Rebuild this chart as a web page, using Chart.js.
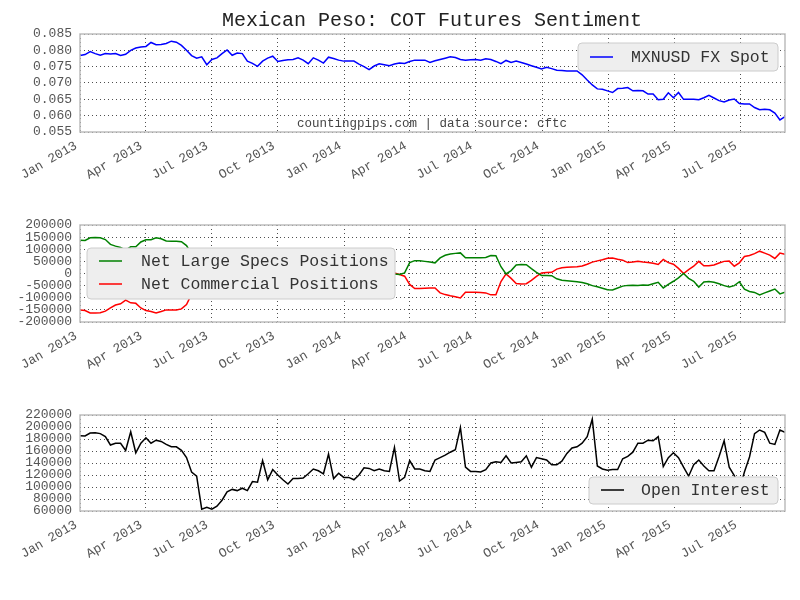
<!DOCTYPE html>
<html>
<head>
<meta charset="utf-8">
<title>Mexican Peso: COT Futures Sentiment</title>
<script src="https://cdn.jsdelivr.net/npm/chart.js@4.4.1/dist/chart.umd.min.js"></script>
<style>
  html, body { margin: 0; padding: 0; background: #fff; }
  #wrap { position: relative; width: 800px; height: 600px; }
  canvas { position: absolute; left: 0; }
</style>
</head>
<body>
<div id="wrap">
  <canvas id="spotChart" width="800" height="200" style="top:0"></canvas>
  <canvas id="cotChart" width="800" height="190" style="top:200px"></canvas>
  <canvas id="oiChart" width="800" height="210" style="top:390px"></canvas>
</div>
<script>
// ===== Datos (semanales, martes del COT) =====
const startDate = '2013-01-01';

const tickDates = ['2013-01-01', '2013-04-01', '2013-07-01', '2013-10-01', '2014-01-01', '2014-04-01',
                   '2014-07-01', '2014-10-01', '2015-01-01', '2015-04-01', '2015-07-01'];
const tickLabels = ['Jan 2013', 'Apr 2013', 'Jul 2013', 'Oct 2013', 'Jan 2014', 'Apr 2014',
                    'Jul 2014', 'Oct 2014', 'Jan 2015', 'Apr 2015', 'Jul 2015'];

const spotValues = [
    0.0784, 0.0787, 0.0796, 0.0790, 0.0785, 0.0790, 0.0789, 0.0790, 0.0784, 0.0788,
    0.0800, 0.0807, 0.0810, 0.0812, 0.0824, 0.0817, 0.0818, 0.0821, 0.0828, 0.0825,
    0.0815, 0.0800, 0.0784, 0.0776, 0.0780, 0.0756, 0.0772, 0.0777, 0.0790, 0.0801,
    0.0785, 0.0792, 0.0790, 0.0767, 0.0760, 0.0751, 0.0767, 0.0776, 0.0782, 0.0766,
    0.0769, 0.0771, 0.0772, 0.0777, 0.0770, 0.0759, 0.0777, 0.0770, 0.0761, 0.0779,
    0.0775, 0.0770, 0.0767, 0.0767, 0.0767, 0.0758, 0.0750, 0.0741, 0.0752, 0.0759,
    0.0756, 0.0753, 0.0758, 0.0761, 0.0760, 0.0766, 0.0770, 0.0770, 0.0770, 0.0763,
    0.0768, 0.0772, 0.0776, 0.0780, 0.0778, 0.0772, 0.0770, 0.0771, 0.0772, 0.0770,
    0.0774, 0.0772, 0.0766, 0.0759, 0.0769, 0.0763, 0.0767, 0.0763, 0.0758, 0.0753,
    0.0748, 0.0743, 0.0748, 0.0744, 0.0739, 0.0738, 0.0737, 0.0737, 0.0737, 0.0725,
    0.0709, 0.0694, 0.0682, 0.0681, 0.0676, 0.0671, 0.0683, 0.0684, 0.0686, 0.0676,
    0.0677, 0.0676, 0.0666, 0.0666, 0.0649, 0.0650, 0.0670, 0.0655, 0.0671, 0.0650,
    0.0650, 0.0650, 0.0649, 0.0655, 0.0662, 0.0654, 0.0646, 0.0642, 0.0648, 0.0651,
    0.0637, 0.0636, 0.0636, 0.0625, 0.0618, 0.0620, 0.0618, 0.0608, 0.0587, 0.0597
];

const largeSpecs = [
    137000, 136000, 147000, 148000, 147000, 140000, 120000, 113000, 107000, 96000,
    110000, 110000, 130000, 139000, 139000, 147000, 143000, 134000, 133000, 133000,
    131000, 115000, 80000, 60000, 45000, 38000, 30000, 42000, 35000, 22000,
    18000, 25000, 30000, 20000, 10000, 5000, 15000, 24000, 20000, 28000,
    35000, 30000, 22000, 15000, 10000, 18000, 25000, 20000, 12000, 8000,
    15000, 12000, 5000, -2000, 4000, 10000, 6000, -5000, -8000, 0,
    5000, 3000, -2000, -4000, 2500, 45000, 53000, 52500, 50000, 47000,
    44000, 64500, 75000, 80000, 83000, 85000, 64500, 64500, 64500, 64500,
    66000, 74000, 73000, 28000, -1600, 12000, 35000, 37000, 36000, 20000,
    5000, -8000, -8000, -9000, -22000, -28000, -30000, -32000, -34000, -37000,
    -42000, -50000, -55000, -61000, -67000, -68000, -60000, -52000, -49000, -48000,
    -49000, -47000, -48000, -42000, -36000, -59500, -45000, -32000, -18000, 0,
    -20000, -32000, -56000, -35000, -33000, -36000, -42000, -50000, -56000, -50000,
    -34000, -65000, -74000, -78000, -88000, -80000, -72000, -64000, -84000, -77000
];

const commercials = [
    -151000, -153000, -163000, -163000, -162000, -155000, -142000, -130000, -125000, -110000,
    -121000, -123000, -142000, -153000, -157000, -163000, -157000, -150000, -150000, -150000,
    -146000, -128000, -85000, -65000, -50000, -42000, -35000, -46000, -40000, -28000,
    -22000, -30000, -34000, -25000, -15000, -10000, -20000, -28000, -24000, -32000,
    -38000, -34000, -27000, -20000, -15000, -22000, -30000, -25000, -17000, -12000,
    -20000, -16000, -9000, -2000, -8000, -14000, -10000, 0, 4000, -3000,
    -8000, -5000, 2000, -4000, -11000, -45000, -62000, -62000, -61000, -60000,
    -59500, -80000, -87000, -92000, -96000, -101000, -77000, -77000, -77000, -78000,
    -80000, -88000, -88000, -33000, -1600, -20000, -41000, -43000, -42000, -28000,
    -12000, 2500, 4000, 5000, 18000, 24000, 26000, 27000, 28000, 31000,
    38000, 47000, 52000, 57000, 63000, 64000, 59000, 55000, 45000, 47000,
    50000, 47000, 45000, 42000, 37000, 57800, 45000, 38000, 21000, 0,
    16000, 30000, 50000, 32000, 32000, 35000, 43000, 50000, 51000, 30000,
    44000, 70000, 74000, 82000, 92000, 84000, 76000, 62000, 84000, 79000
];

const openInterest = [
    185500, 185000, 190000, 190500, 189000, 184000, 170000, 173000, 173000, 161000,
    192000, 157000, 173000, 182000, 173000, 178000, 176000, 171000, 167000, 167000,
    161000, 149000, 125000, 118000, 63000, 66000, 63000, 68000, 78000, 92000,
    96000, 94000, 98000, 94000, 109000, 108000, 144000, 112000, 129000, 120000,
    112000, 105000, 114000, 114000, 115000, 122000, 130000, 127000, 122000, 155000,
    114000, 123000, 116000, 116000, 112000, 120000, 132000, 131000, 127000, 130000,
    127000, 126000, 166000, 110000, 116000, 144000, 130000, 130000, 127000, 126000,
    145000, 149000, 153000, 158000, 162000, 199000, 133000, 126000, 126000, 125000,
    129000, 140000, 142000, 141000, 152000, 140000, 141000, 142000, 152000, 133000,
    149000, 147000, 145000, 137000, 137000, 143000, 156000, 165000, 167000, 173000,
    184000, 213000, 135000, 130000, 128000, 129000, 129000, 147000, 151000, 158000,
    173000, 173000, 178000, 177000, 184000, 134000, 149000, 157000, 149000, 133000,
    118000, 137000, 145000, 135000, 127000, 127000, 151000, 177000, 133000, 119000,
    95000, 125000, 150000, 189000, 195000, 191000, 173000, 171000, 195000, 191000
];

// ===== Utilidades =====
const FONT = '"Liberation Mono", "DejaVu Sans Mono", monospace';
const DAY_MS = 86400000;
const dayOf = s => (Date.parse(s) - Date.parse(startDate)) / DAY_MS;
const weekDays = spotValues.map((_, i) => i * 7);
const lastDay = weekDays[weekDays.length - 1];
const tickDays = tickDates.map(dayOf);

// Marco gris alrededor del área del gráfico
const frameBox = {
    id: 'frameBox',
    afterDraw(chart) {
        const { ctx, chartArea: a } = chart;
        ctx.save();
        ctx.strokeStyle = '#bdbdbd';
        ctx.lineWidth = 1.5;
        ctx.strokeRect(a.left, a.top, a.right - a.left, a.bottom - a.top);
        ctx.restore();
    }
};

// Leyenda con caja dentro del área
const boxLegend = {
    id: 'boxLegend',
    afterDraw(chart, args, opts) {
        const b = opts.box;
        if (!b) return;
        const ctx = chart.ctx;
        ctx.save();
        ctx.beginPath();
        ctx.roundRect(b.x, b.y, b.w, b.h, 4);
        ctx.fillStyle = '#eeeeee';
        ctx.fill();
        ctx.strokeStyle = '#cccccc';
        ctx.lineWidth = 1;
        ctx.stroke();
        ctx.font = '16.5px ' + FONT;
        ctx.textBaseline = 'middle';
        chart.data.datasets.forEach((ds, i) => {
            const y = b.y + opts.firstRow + i * opts.rowGap;
            ctx.strokeStyle = ds.borderColor;
            ctx.lineWidth = 1.5;
            ctx.beginPath();
            ctx.moveTo(b.x + 12, y);
            ctx.lineTo(b.x + 35, y);
            ctx.stroke();
            ctx.fillStyle = '#333333';
            ctx.fillText(ds.label, b.x + opts.textX, y + 1);
        });
        ctx.restore();
    }
};

// Textos sueltos (título, fuente)
const captions = {
    id: 'captions',
    afterDraw(chart, args, opts) {
        const ctx = chart.ctx;
        (opts.items || []).forEach(t => {
            ctx.save();
            ctx.font = t.font;
            ctx.fillStyle = t.color;
            ctx.textAlign = 'center';
            ctx.textBaseline = 'middle';
            ctx.fillText(t.text, t.x, t.y);
            ctx.restore();
        });
    }
};

function xScaleOptions(axisHeight) {
    return {
        type: 'linear',
        min: 0,
        max: lastDay,
        afterBuildTicks: s => { s.ticks = tickDays.map(v => ({ value: v })); },
        afterFit: s => { s.height = axisHeight; },
        grid: { color: '#222222', lineWidth: 0.8, drawTicks: false },
        border: { display: false, dash: [1, 3] },
        ticks: {
            autoSkip: false,
            minRotation: 30,
            maxRotation: 30,
            padding: 6,
            labelOffset: -4,
            color: '#555555',
            font: { family: FONT, size: 13 },
            callback: v => tickLabels[tickDays.indexOf(v)] || ''
        }
    };
}

function yScaleOptions(min, max, step, fmt) {
    return {
        min: min,
        max: max,
        afterFit: s => { s.width = 80; },
        grid: { color: '#222222', lineWidth: 0.8, drawTicks: false },
        border: { display: false, dash: [1, 3] },
        ticks: {
            stepSize: step,
            autoSkip: false,
            padding: 8,
            color: '#555555',
            font: { family: FONT, size: 13 },
            callback: fmt
        }
    };
}

function makeChart(canvasId, cfg) {
    const ctx = document.getElementById(canvasId);
    return new Chart(ctx, {
        type: 'line',
        data: {
            datasets: cfg.series.map(s => ({
                label: s.label,
                data: s.values.map((v, i) => ({ x: weekDays[i], y: v })),
                borderColor: s.color,
                borderWidth: 1.5,
                pointRadius: 0,
                tension: 0,
                fill: false
            }))
        },
        options: {
            responsive: false,
            animation: false,
            events: [],
            layout: { padding: { left: 0, right: 15, top: cfg.top, bottom: 0 } },
            scales: {
                x: xScaleOptions(cfg.axisHeight),
                y: yScaleOptions(cfg.yMin, cfg.yMax, cfg.yStep, cfg.yFormat)
            },
            plugins: {
                legend: { display: false },
                tooltip: { enabled: false },
                boxLegend: cfg.legend,
                captions: { items: cfg.captions || [] }
            }
        },
        plugins: [frameBox, boxLegend, captions]
    });
}

// ===== Gráficos =====
makeChart('spotChart', {
    top: 34,
    axisHeight: 68,
    yMin: 0.055, yMax: 0.085, yStep: 0.005,
    yFormat: v => v.toFixed(3),
    series: [{ label: 'MXNUSD FX Spot', values: spotValues, color: '#0000ff' }],
    legend: { box: { x: 578, y: 43, w: 200, h: 28 }, firstRow: 14, rowGap: 0, textX: 53 },
    captions: [
        { text: 'Mexican Peso: COT Futures Sentiment', x: 432, y: 21, font: '20px ' + FONT, color: '#222222' },
        { text: 'countingpips.com | data source: cftc', x: 432, y: 124, font: '12.5px ' + FONT, color: '#444444' }
    ]
});

makeChart('cotChart', {
    top: 25,
    axisHeight: 68,
    yMin: -200000, yMax: 200000, yStep: 50000,
    yFormat: v => String(v),
    series: [
        { label: 'Net Large Specs Positions', values: largeSpecs, color: '#008000' },
        { label: 'Net Commercial Positions', values: commercials, color: '#ff0000' }
    ],
    legend: { box: { x: 87, y: 48, w: 308, h: 51 }, firstRow: 13, rowGap: 23, textX: 54 }
});

makeChart('oiChart', {
    top: 25,
    axisHeight: 89,
    yMin: 60000, yMax: 220000, yStep: 20000,
    yFormat: v => String(v),
    series: [{ label: 'Open Interest', values: openInterest, color: '#000000' }],
    legend: { box: { x: 589, y: 87, w: 189, h: 27 }, firstRow: 13, rowGap: 0, textX: 52 }
});
</script>
</body>
</html>
